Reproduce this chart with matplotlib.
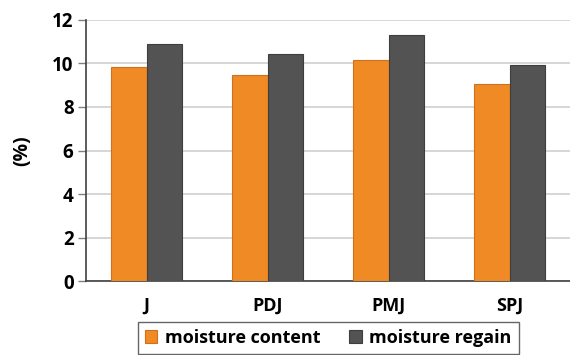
import matplotlib
matplotlib.use("Agg")
import matplotlib.pyplot as plt
import numpy as np

categories = ["J", "PDJ", "PMJ", "SPJ"]
moisture_content = [9.85, 9.45, 10.15, 9.05]
moisture_regain = [10.9, 10.45, 11.3, 9.95]

plt.rcParams['font.family'] = ['Open Sans', 'DejaVu Sans']
plt.rcParams['font.weight'] = 'bold'

fig = plt.figure(figsize=(5.7, 3.55), dpi=100)
ax = fig.add_axes([0.151, 0.208, 0.849, 0.736])

x = np.arange(len(categories))
w = 0.29
ax.bar(x - w / 2, moisture_content, w, color="#F08A24", edgecolor="#D0701C",
       linewidth=0.8, label="moisture content", zorder=3)
ax.bar(x + w / 2, moisture_regain, w, color="#535353", edgecolor="#3E3E3E",
       linewidth=0.8, label="moisture regain", zorder=3)

ax.set_xlim(-0.5, 3.5)
ax.set_ylim(0, 12)
ax.set_yticks(np.arange(0, 13, 2))
ax.set_xticks(x)
ax.set_xticklabels(categories, fontsize=13, fontweight='bold')
ax.tick_params(axis='y', labelsize=13.5, length=6, width=1, color="#808080", pad=3)
ax.tick_params(axis='x', length=0, pad=11)
ax.grid(axis='y', color="#d0d0d0", linewidth=1.2, zorder=0)

for s in ['top', 'right']:
    ax.spines[s].set_visible(False)
ax.spines['left'].set_color("#404040")
ax.spines['bottom'].set_color("#404040")
ax.spines['left'].set_linewidth(1.2)
ax.spines['bottom'].set_linewidth(1.2)

ax.set_ylabel("(%)", fontsize=14, fontweight='bold', labelpad=14)

leg = ax.legend(loc='upper center', bbox_to_anchor=(0.5, -0.12), ncol=2,
                frameon=True, fancybox=False, fontsize=13, handlelength=0.7,
                handleheight=0.7, handletextpad=0.4, columnspacing=1.6,
                borderpad=0.4)
leg.get_frame().set_edgecolor("#404040")
leg.get_frame().set_linewidth(1.0)

fig.savefig("out.png", dpi=100)
